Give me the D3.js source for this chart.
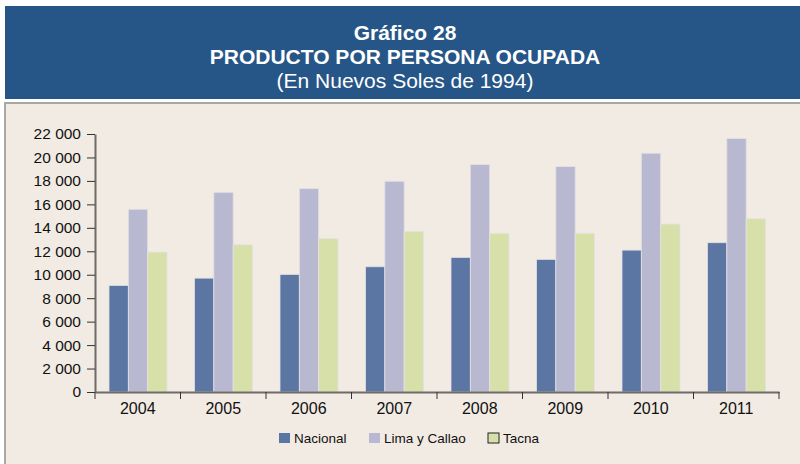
<!DOCTYPE html>
<html>
<head>
<meta charset="utf-8">
<style>
  body { margin: 0; background: #ffffff; font-family: "Liberation Sans", Arial, sans-serif; }
</style>
</head>
<body>
<div id="chart"></div>
<script src="https://d3js.org/d3.v7.min.js"></script>
<script>
// data
const years = ["2004", "2005", "2006", "2007", "2008", "2009", "2010", "2011"];
const series = ["Nacional", "Lima y Callao", "Tacna"];
const nacional = [9090, 9710, 10030, 10680, 11480, 11310, 12100, 12730];
const limaCallao = [15580, 17030, 17340, 17970, 19390, 19220, 20360, 21610];
const tacna = [11930, 12550, 13070, 13700, 13530, 13530, 14320, 14770];
const yTicks = [0, 2000, 4000, 6000, 8000, 10000, 12000, 14000, 16000, 18000, 20000, 22000];
const colours = ["#5b76a2", "#b8b8d1", "#d8e0a9"];

const values = [nacional, limaCallao, tacna];
const rows = years.map((y, i) => ({ year: y, vals: values.map(v => v[i]) }));

const W = 800, H = 464;
const svg = d3.select("#chart").append("svg")
  .attr("width", W).attr("height", H);

// header
svg.append("rect").attr("x", 5).attr("y", 6).attr("width", 795).attr("height", 93)
  .attr("fill", "#265587");
const titles = [
  { t: "Gráfico 28", y: 40, w: "bold" },
  { t: "PRODUCTO POR PERSONA OCUPADA", y: 64, w: "bold" },
  { t: "(En Nuevos Soles de 1994)", y: 88, w: "normal" }
];
svg.selectAll("text.title").data(titles).join("text")
  .attr("class", "title")
  .attr("x", 405).attr("y", d => d.y)
  .attr("text-anchor", "middle")
  .attr("fill", "#ffffff")
  .attr("font-size", 21)
  .attr("font-weight", d => d.w)
  .text(d => d.t);

// panel
svg.append("rect").attr("x", 5).attr("y", 103).attr("width", 796).attr("height", 362)
  .attr("fill", "#f1ebe4").attr("stroke", "#a8a8a8").attr("stroke-width", 2);

// scales
const x0 = d3.scaleBand().domain(years).range([95, 779]).paddingInner(0).paddingOuter(0);
const x1 = d3.scaleBand().domain(series).range([14, 14 + 58]).padding(0);
const y = d3.scaleLinear().domain([0, 22000]).range([392, 134]);

// bars
const g = svg.append("g");
g.selectAll("g.year").data(rows).join("g")
  .attr("class", "year")
  .attr("transform", d => `translate(${x0(d.year)},0)`)
  .selectAll("rect").data(d => d.vals.map((v, i) => ({ s: series[i], v, i })))
  .join("rect")
  .attr("x", d => x1(d.s))
  .attr("y", d => y(d.v))
  .attr("width", x1.bandwidth())
  .attr("height", d => y(0) - y(d.v))
  .attr("fill", d => colours[d.i])
  .attr("stroke", "#e4e0e4").attr("stroke-width", 0.8);

// y axis
const fmt = d => d3.format(",")(d).replace(/,/g, " ");
const ay = svg.append("g").attr("transform", "translate(95,0)")
  .call(d3.axisLeft(y).tickValues(yTicks).tickFormat(fmt).tickSize(8).tickSizeOuter(0).tickPadding(6));
ay.select(".domain").attr("stroke", "#6e6a66").attr("stroke-width", 2);
ay.selectAll(".tick line").attr("stroke", "#333").attr("stroke-width", 1);
ay.selectAll("text").attr("font-size", 15.5).attr("fill", "#111")
  .attr("font-family", "Liberation Sans, Arial, sans-serif");

// x axis
const ax = svg.append("g").attr("transform", "translate(0,392)")
  .call(d3.axisBottom(x0).tickSize(0).tickPadding(11));
ax.select(".domain").attr("stroke", "#6e6a66").attr("stroke-width", 2);
ax.selectAll("text").attr("font-size", 16).attr("fill", "#111")
  .attr("font-family", "Liberation Sans, Arial, sans-serif");
// tick marks at band edges
const edges = years.map(yr => x0(yr)).concat([x0.range()[1]]);
svg.append("g").selectAll("line").data(edges).join("line")
  .attr("x1", d => d).attr("x2", d => d)
  .attr("y1", 392).attr("y2", 399)
  .attr("stroke", "#333").attr("stroke-width", 1);

// legend
const legend = [
  { s: "Nacional", x: 279, c: colours[0], b: "none" },
  { s: "Lima y Callao", x: 369, c: colours[1], b: "none" },
  { s: "Tacna", x: 488, c: colours[2], b: "#222" }
];
const lg = svg.append("g").selectAll("g").data(legend).join("g")
  .attr("transform", d => `translate(${d.x},433)`);
lg.append("rect").attr("width", 11).attr("height", 10)
  .attr("fill", d => d.c).attr("stroke", d => d.b).attr("stroke-width", 1);
lg.append("text").attr("x", 15).attr("y", 10)
  .attr("font-size", 13.5).attr("fill", "#111")
  .text(d => d.s);
</script>
</body>
</html>
